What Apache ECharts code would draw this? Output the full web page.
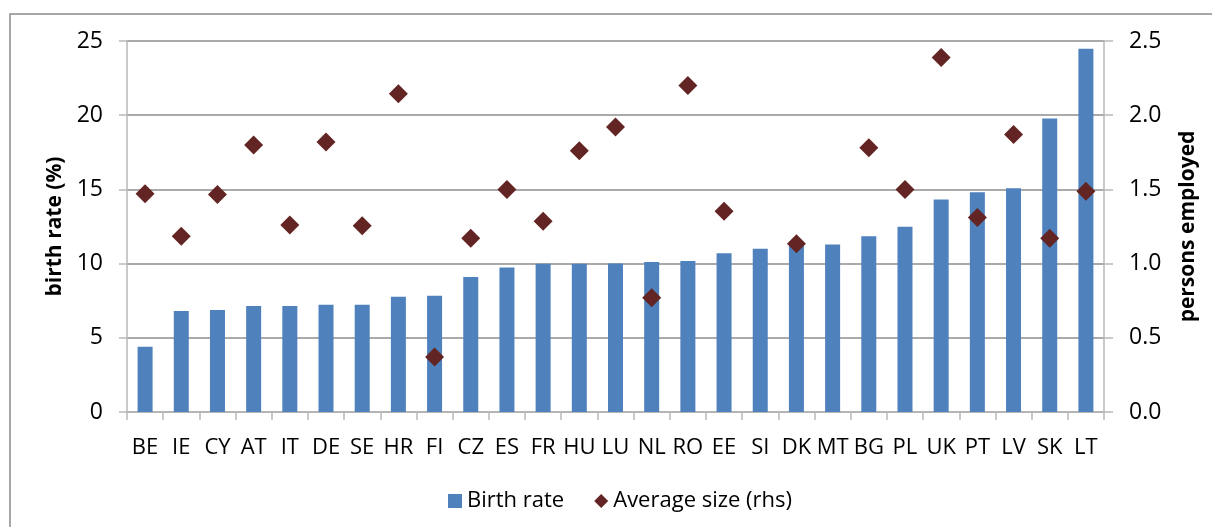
<!DOCTYPE html>
<html>
<head>
<meta charset="utf-8">
<script src="https://cdn.jsdelivr.net/npm/echarts@6/dist/echarts.min.js"></script>
<style>
  html, body { margin: 0; padding: 0; background: #fff; }
  #chart { width: 1212px; height: 527px; }
</style>
</head>
<body>
<div id="chart"></div>
<script>
// country codes, sorted by birth rate
const countries = ['BE', 'IE', 'CY', 'AT', 'IT', 'DE', 'SE', 'HR', 'FI', 'CZ', 'ES', 'FR', 'HU', 'LU',
  'NL', 'RO', 'EE', 'SI', 'DK', 'MT', 'BG', 'PL', 'UK', 'PT', 'LV', 'SK', 'LT']
// birth rate (%) - left axis
const birthRate = [4.4, 6.8, 6.87, 7.15, 7.15, 7.22, 7.22, 7.77, 7.83, 9.1, 9.74, 9.99, 9.99, 10.01,
  10.1, 10.17, 10.7, 11.0, 11.2, 11.29, 11.85, 12.48, 14.32, 14.81, 15.08, 19.78, 24.48]
// average size, persons employed (rhs) - SI and MT have no value
const avgSize = [1.47, 1.185, 1.465, 1.8, 1.26, 1.82, 1.255, 2.145, 0.37, 1.17, 1.5, 1.285, 1.76, 1.92,
  0.77, 2.2, 1.353, null, 1.133, null, 1.78, 1.5, 2.388, 1.31, 1.87, 1.17, 1.488]
const leftTicks = [0, 25, 5]
const rightTicks = [0, 2.5, 0.5]

const FONT = 'Open Sans'
const gridColor = '#8e8e8e'
const axisColor = '#b9b9b9'

const chart = echarts.init(document.getElementById('chart'), null, { renderer: 'canvas' })

const option = {
  animation: false,
  textStyle: { fontFamily: FONT, color: '#000' },
  graphic: [
    {
      type: 'rect',
      shape: { x: 10, y: 14, width: 1230, height: 600 },
      style: { fill: 'none', stroke: '#8a8a8a', lineWidth: 1.5 },
    },
  ],
  grid: { left: 127, right: 108, top: 41, bottom: 115, outerBoundsMode: 'none', containLabel: false },
  legend: {
    left: 443,
    top: 485,
    itemWidth: 14,
    itemHeight: 14,
    itemGap: 30,
    textStyle: { fontFamily: FONT, fontSize: 22, color: '#000' },
    data: [
      { name: 'Birth rate', icon: 'rect' },
      { name: 'Average size (rhs)', icon: 'diamond', itemStyle: { opacity: 1 } },
    ],
  },
  xAxis: {
    type: 'category',
    data: countries,
    axisLine: { show: true, lineStyle: { color: axisColor, width: 1.5 } },
    axisTick: { show: true, length: 8, lineStyle: { color: axisColor, width: 1.5 } },
    axisLabel: { fontFamily: FONT, fontSize: 22, color: '#000', margin: 25, interval: 0 },
  },
  yAxis: [
    {
      type: 'value',
      min: leftTicks[0],
      max: leftTicks[1],
      interval: leftTicks[2],
      name: 'birth rate (%)',
      nameLocation: 'middle',
      nameGap: 60,
      nameRotate: 90,
      nameTextStyle: { fontFamily: FONT, fontSize: 21, fontWeight: 'bold', color: '#000' },
      axisLine: { show: true, lineStyle: { color: axisColor, width: 1.5 } },
      axisTick: { show: true, length: 8, lineStyle: { color: axisColor, width: 1.5 } },
      axisLabel: { fontFamily: FONT, fontSize: 23, color: '#000', margin: 24 },
      splitLine: { show: true, lineStyle: { color: gridColor, width: 1.5 } },
    },
    {
      type: 'value',
      min: rightTicks[0],
      max: rightTicks[1],
      interval: rightTicks[2],
      position: 'right',
      name: 'persons employed',
      nameLocation: 'middle',
      nameGap: 74,
      nameRotate: 90,
      nameTextStyle: { fontFamily: FONT, fontSize: 21, fontWeight: 'bold', color: '#000' },
      axisLine: { show: true, lineStyle: { color: axisColor, width: 1.5 } },
      axisTick: { show: true, length: 9, lineStyle: { color: axisColor, width: 1.5 } },
      axisLabel: {
        fontFamily: FONT, fontSize: 23, color: '#000', margin: 25,
        formatter: (v) => v.toFixed(1),
      },
      splitLine: { show: false },
    },
  ],
  series: [
    {
      name: 'Birth rate',
      type: 'bar',
      yAxisIndex: 0,
      data: birthRate,
      barWidth: 15,
      itemStyle: { color: '#4F81BD' },
    },
    {
      name: 'Average size (rhs)',
      type: 'scatter',
      yAxisIndex: 1,
      data: avgSize,
      symbol: 'diamond',
      symbolSize: [19, 19],
      itemStyle: { color: '#632523', opacity: 1 },
    },
  ],
}

chart.setOption(option)
</script>
</body>
</html>
